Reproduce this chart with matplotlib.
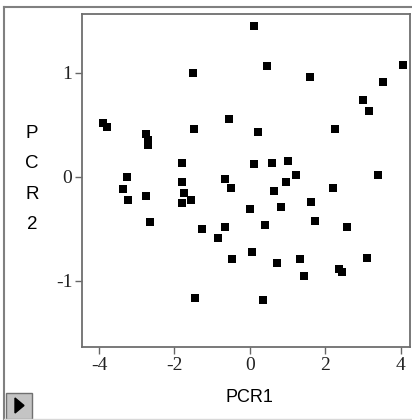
import matplotlib
matplotlib.use('Agg')
import matplotlib.pyplot as plt
from matplotlib.patches import Rectangle, Polygon
from matplotlib.lines import Line2D

# scores
pcr1 = [0.10, -1.52, 0.45, -0.56, 4.05, 1.59, 3.52, 2.99, 3.15,
        -3.90, -3.79, -2.75, -2.70, -2.70, -1.80, -3.25, -3.36, -3.23,
        -2.75, -1.80, -1.75, -1.80, -1.56, -2.65, 0.20, -1.47, 2.24,
        0.11, 0.58, 1.01, 1.23, -0.67, -0.50, 0.95, 0.63, 0.00, 0.82,
        0.39, -1.28, -0.67, -0.86, 3.39, 2.20, 1.61, 1.72, 2.57, -0.48,
        0.05, 0.71, 1.33, 1.42, 2.36, 2.43, 3.10, 0.34, -1.46]
pcr2 = [1.45, 1.00, 1.06, 0.55, 1.07, 0.96, 0.91, 0.74, 0.635,
        0.52, 0.48, 0.41, 0.35, 0.30, 0.135, 0.00, -0.12, -0.22,
        -0.19, -0.05, -0.155, -0.255, -0.22, -0.435, 0.43, 0.46, 0.46,
        0.125, 0.13, 0.15, 0.02, -0.02, -0.105, -0.05, -0.135, -0.31, -0.29,
        -0.465, -0.50, -0.48, -0.59, 0.02, -0.105, -0.24, -0.43, -0.48, -0.79,
        -0.72, -0.83, -0.79, -0.95, -0.89, -0.92, -0.78, -1.19, -1.17]

xticks = [-4, -2, 0, 2, 4]
xtick_labels = ['-4', '-2', '0', '2', '4']
yticks = [-1, 0, 1]
ytick_labels = ['-1', '0', '1']

W, H = 412, 420
fig = plt.figure(figsize=(W / 100, H / 100), dpi=100)
fig.patch.set_facecolor('white')


def fx(px):
    return px / W


def fy(py):
    return 1 - py / H


ax = fig.add_axes([fx(82), fy(347), fx(410) - fx(82), fy(14) - fy(347)])
ax.plot(pcr1, pcr2, 's', color='black', markersize=5.8, markeredgewidth=0)
ax.set_xlim(-4.45, 4.24)
ax.set_ylim(-1.637, 1.564)

ax.set_xticks(xticks)
ax.set_xticklabels(xtick_labels)
ax.set_yticks(yticks)
ax.set_yticklabels(ytick_labels)
for lab in ax.get_xticklabels() + ax.get_yticklabels():
    lab.set_family('Liberation Serif')
    lab.set_fontsize(14)
    lab.set_color('#222222')
ax.tick_params(direction='out', length=5, width=1, color='#666666', pad=2)

for s in ax.spines.values():
    s.set_color('#6e6e6e')
    s.set_linewidth(1.3)

# axis titles
fig.text(fx(249), fy(398), 'PCR1', ha='center', va='center',
         family='Liberation Sans', fontsize=13, color='black')
fig.text(fx(32), fy(179), 'P\nC\nR\n2', ha='center', va='center',
         family='Liberation Sans', fontsize=13.5, linespacing=2.05, color='black')

# outer frame
fig.add_artist(Line2D([fx(4), fx(4)], [fy(7), fy(420)], color='#808080', lw=1.5))
fig.add_artist(Line2D([fx(4), fx(412)], [fy(7), fy(7)], color='#808080', lw=1.5))
fig.add_artist(Line2D([fx(4), fx(412)], [fy(418.5), fy(418.5)], color='#d8d8d8', lw=1))

# little disclosure button bottom-left
fig.add_artist(Rectangle((fx(6), fy(419)), fx(32) - fx(6), fy(393) - fy(419),
                         transform=fig.transFigure, facecolor='#c4c4c4',
                         edgecolor='#707070', lw=1))
fig.add_artist(Polygon([(fx(15), fy(398)), (fx(15), fy(413)), (fx(24), fy(405.5))],
                       closed=True, transform=fig.transFigure, facecolor='black',
                       edgecolor='black'))

fig.savefig('out.png', dpi=100)
